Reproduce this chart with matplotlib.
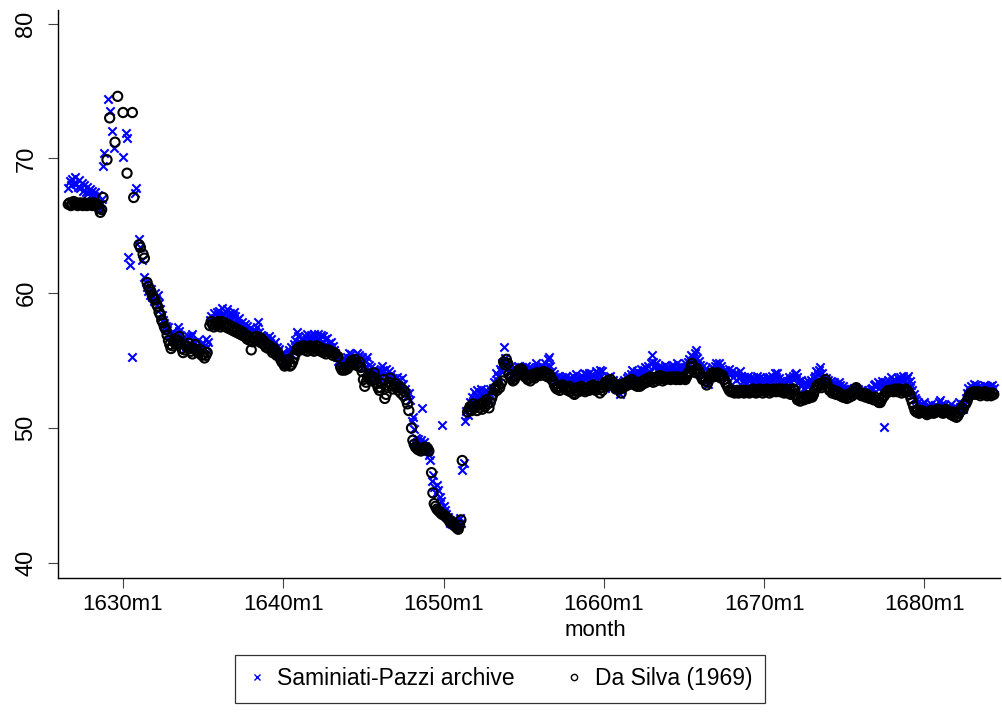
import numpy as np
import matplotlib.pyplot as plt
from matplotlib.lines import Line2D

plt.rcParams['font.family'] = ['Liberation Sans', 'DejaVu Sans']

# monthly series, first observation is 1626m8
first_year = 1626
first_month = 8

# Saminiati-Pazzi archive (None = no observation)
sp_archive = [
    67.8, 68.3, 68.0, 68.5, 68.2,                                        # 1626 m8-m12
    68.6, 68.1, 67.9, 68.4, 67.8, 68.2, 67.6, 68.0, 67.5, 67.9, 67.4, 67.7,  # 1627
    67.3, 67.6, 67.2, 67.5, 67.0, 67.3, 66.4, 66.2, 67.0, 69.4, 70.4, None,  # 1628
    None, 74.4, 73.5, None, 72.0, 70.8, None, None, None, None, None, None,  # 1629
    70.1, None, 71.9, 71.5, 62.7, 62.1, None, 55.3, None, 67.4, 67.8, None,  # 1630
    64.0, 63.4, 62.5, None, 61.2, 60.8, 60.5, 60.2, 59.9, 60.3, 59.7, 59.4,  # 1631
    60.0, 59.6, 59.9, 59.3, 58.8, 58.4, 58.0, 57.8, 57.6, 57.3, 57.5, 57.0,  # 1632
    56.8, 57.1, 56.5, 56.2, 56.8, 57.5, 57.2, 56.9, 56.4, 56.7, 56.3, 56.0,  # 1633
    56.5, 56.8, 56.2, 56.8, 57.0, 56.4, 55.9, 56.1, 56.5, 56.0, 55.8, 56.2,  # 1634
    56.3, 55.9, 56.6, 56.0, 56.4, 58.0, 58.3, 57.8, 58.5, 58.2, 58.6, 58.4,  # 1635
    58.7, 58.4, 58.9, 58.5, 58.2, 58.6, 58.8, 58.3, 58.5, 58.1, 58.4, 58.6,  # 1636
    58.3, 58.0, 57.8, 58.2, 57.6, 57.9, 57.5, 57.7, 57.3, 57.6, 57.2, 57.4,  # 1637
    57.0, 57.3, 56.8, 57.2, 57.5, 57.9, 57.1, 56.9, 56.6, 56.8, 56.4, 56.7,  # 1638
    56.5, 56.8, 56.3, 56.6, 56.1, 55.9, 56.4, 56.0, 55.7, 55.9, 55.4, 55.6,  # 1639
    55.5, 55.2, 55.0, 55.4, 55.8, 55.6, 56.0, 55.7, 56.2, 56.5, 57.1, 56.8,  # 1640
    56.0, 56.3, 56.6, 56.2, 56.8, 56.5, 57.0, 56.7, 56.4, 56.9, 56.6, 57.0,  # 1641
    56.8, 56.5, 57.0, 56.7, 56.9, 56.4, 56.8, 56.6, 56.2, 56.7, 56.3, 56.0,  # 1642
    56.4, 56.1, 55.8, 55.6, 55.3, 55.0, 54.8, 54.6, 54.9, 55.2, 54.7, 55.0,  # 1643
    55.3, 55.6, 55.2, 55.5, 54.9, 55.3, 55.0, 55.6, 55.2, 55.4, 55.0, 55.3,  # 1644
    54.8, 54.5, 55.0, 55.3, 54.7, 54.2, 54.5, 54.0, 54.4, 53.8, 54.1, 53.7,  # 1645
    53.9, 54.2, 54.6, 54.3, 54.0, 54.4, 53.9, 54.2, 53.6, 54.0, 53.7, 53.5,  # 1646
    53.4, 53.8, 53.2, 53.6, 53.1, 53.7, 53.3, 52.9, 52.6, 52.4, 52.6, 52.1,  # 1647
    50.5, 50.8, 49.9, 49.3, 49.0, 49.2, 48.9, 49.1, 51.5, 49.0, 48.7, 48.5,  # 1648
    48.3, 48.0, 47.6, 46.1, 46.5, 45.6, 45.2, 45.8, 45.4, 44.9, 44.6, 50.2,  # 1649
    44.2, 43.9, 43.6, 43.4, 43.2, 43.0, 42.9, 43.1, 42.8, 43.2, 43.0, 42.7,  # 1650
    43.3, 43.0, 46.9, 47.4, 50.5, 51.3, 51.0, 51.6, 51.9, 52.3, 52.0, 52.7,  # 1651
    52.4, 52.8, 52.2, 52.6, 52.9, 52.5, 52.7, 52.3, 52.8, 52.4, 52.6, 52.9,  # 1652
    52.7, 53.0, 53.4, 54.1, 53.6, 53.9, 54.4, 54.2, 54.8, 56.0, 55.2, 54.9,  # 1653
    54.6, 54.2, 54.5, 54.0, 54.3, 53.9, 54.4, 54.1, 54.6, 54.2, 54.5, 54.0,  # 1654
    54.3, 54.0, 54.6, 54.2, 54.5, 54.1, 54.4, 54.0, 54.3, 54.8, 54.5, 54.2,  # 1655
    54.4, 54.1, 54.6, 54.3, 54.8, 54.5, 55.1, 55.3, 54.6, 54.2, 53.8, 54.0,  # 1656
    53.7, 53.5, 53.9, 53.6, 53.4, 53.8, 53.5, 53.7, 53.9, 53.6, 53.3, 53.7,  # 1657
    53.5, 53.9, 53.6, 54.0, 53.7, 53.4, 53.8, 53.5, 53.9, 54.1, 53.7, 54.0,  # 1658
    53.8, 54.1, 53.7, 54.0, 53.6, 53.9, 54.2, 53.8, 54.1, 54.3, 53.9, 54.2,  # 1659
    53.6, 53.0, 53.4, 53.8, 53.5, 53.9, 53.2, 53.6, 53.1, 53.4, 52.9, 53.3,  # 1660
    52.5, 52.8, 53.2, 53.6, 53.3, 53.7, 53.9, 53.5, 54.0, 54.3, 53.8, 54.1,  # 1661
    53.9, 54.2, 53.8, 54.1, 54.4, 54.0, 54.3, 54.5, 54.1, 54.6, 54.2, 54.8,  # 1662
    55.4, 54.9, 54.5, 54.8, 54.3, 54.6, 54.2, 54.5, 54.1, 54.4, 54.7, 54.3,  # 1663
    54.5, 54.2, 54.6, 54.3, 54.7, 54.4, 54.1, 54.8, 54.5, 54.2, 54.6, 54.3,  # 1664
    54.5, 54.8, 54.4, 54.9, 55.1, 55.4, 55.0, 55.3, 55.6, 55.8, 55.2, 55.0,  # 1665
    54.7, 54.3, 54.6, 54.0, 54.4, 53.8, 53.3, 53.9, 54.2, 54.5, 54.1, 54.6,  # 1666
    54.8, 54.5, 54.8, 54.3, 54.6, 54.2, 53.9, 54.3, 53.8, 54.1, 54.4, 54.0,  # 1667
    54.2, 53.8, 54.1, 53.6, 54.0, 53.7, 54.2, 53.9, 53.5, 53.8, 53.4, 53.7,  # 1668
    53.9, 53.5, 53.8, 53.4, 53.7, 53.3, 53.6, 53.9, 53.5, 53.8, 53.4, 53.7,  # 1669
    53.6, 53.3, 53.7, 53.4, 53.8, 53.5, 53.9, 53.6, 54.1, 53.8, 54.1, 53.7,  # 1670
    53.5, 53.2, 53.6, 53.0, 53.4, 53.1, 53.5, 53.8, 53.4, 53.7, 53.9, 54.0,  # 1671
    54.1, 53.8, 53.5, 53.2, 53.6, 53.3, 53.0, 53.4, 53.1, 53.5, 53.2, 53.6,  # 1672
    53.4, 53.7, 53.9, 54.2, 54.0, 54.3, 54.5, 54.1, 53.8, 53.5, 53.7, 53.4,  # 1673
    53.6, 53.3, 53.5, 53.2, 53.4, 53.0, 53.3, 53.1, 53.4, 53.2, 52.9, 53.1,  # 1674
    52.9, 52.7, 53.0, 52.8, 52.6, 52.9, 52.7, 52.5, 52.8, 52.6, 52.9, 52.7,  # 1675
    52.6, 52.8, 52.5, 52.7, 52.4, 52.6, 52.8, 52.5, 52.9, 53.0, 53.2, 53.3,  # 1676
    53.1, 53.4, 53.0, 53.3, 53.5, 53.2, 50.1, 53.4, 53.1, 53.6, 53.3, 53.8,  # 1677
    53.5, 53.2, 53.6, 53.3, 53.7, 53.4, 53.8, 53.5, 53.9, 53.6, 53.3, 53.7,  # 1678
    53.9, 53.5, 53.2, 52.8, 52.5, 52.2, 52.1, 51.9, 51.7, 51.5, 51.8, 51.6,  # 1679
    51.9, 51.6, 51.4, 51.7, 51.5, 51.8, 51.3, 51.6, 51.4, 51.7, 51.5, 51.9,  # 1680
    52.1, 51.8, 51.5, 51.7, 51.4, 51.6, 51.3, 51.5, 51.8, 51.4, 51.6, 51.3,  # 1681
    51.5, 51.2, 51.9, 51.6, 51.8, 51.4, 51.7, 52.2, 52.6, 53.0, 52.7, 53.1,  # 1682
    52.8, 53.3, 52.9, 53.2, 52.8, 53.1, 52.7, 53.0, 52.8, 53.2, 52.9, 53.1,  # 1683
    52.8, 53.1, 52.9, 53.2, 53.0,                                        # 1684 m1-m5
]

# Da Silva (1969)
da_silva = [
    66.6, 66.7, 66.5, 66.6, 66.8,                                        # 1626 m8-m12
    66.6, 66.7, 66.5, 66.6, 66.7, 66.6, 66.5, 66.7, 66.6, 66.5, 66.6, 66.7,  # 1627
    66.6, 66.5, 66.7, 66.6, 66.5, 66.6, 66.3, 66.0, 66.2, 67.1, None, None,  # 1628
    69.9, None, 73.0, None, None, None, 71.2, None, 74.6, None, None, None,  # 1629
    73.4, None, None, 68.9, None, None, None, 73.4, 67.1, None, None, None,  # 1630
    63.6, 63.4, None, 62.9, 62.6, None, 60.8, 60.5, 60.3, 60.1, 59.8, 59.6,  # 1631
    59.5, 59.2, 59.0, 58.6, 58.4, 58.0, 57.8, 57.5, 57.3, 56.9, 56.5, 56.2,  # 1632
    55.9, 56.1, 56.4, 56.6, 56.2, 56.5, 56.8, 56.3, 55.9, 55.6, 55.8, 56.1,  # 1633
    56.0, 56.3, 55.9, 55.7, 55.5, 55.9, 56.2, 55.8, 55.6, 55.6, 55.8, 55.4,  # 1634
    55.5, 55.2, 55.4, 55.6, None, 57.6, 57.9, 57.7, 57.5, 57.8, 57.6, 57.9,  # 1635
    57.7, 57.5, 57.9, 57.6, 57.8, 57.5, 57.7, 57.4, 57.6, 57.3, 57.5, 57.2,  # 1636
    57.4, 57.1, 57.3, 57.0, 57.2, 56.9, 57.1, 56.8, 56.9, 56.6, 56.8, 56.5,  # 1637
    55.8, 56.4, 56.7, 56.5, 56.8, 56.6, 56.4, 56.7, 56.3, 56.5, 56.2, 56.0,  # 1638
    56.2, 55.9, 56.1, 55.8, 55.6, 55.9, 55.7, 55.4, 55.6, 55.3, 55.1, 54.9,  # 1639
    54.8, 54.6, 54.7, 54.9, 55.1, 54.6, 54.7, 54.9, 55.2, 55.5, 55.8, 55.9,  # 1640
    56.0, 55.8, 55.9, 56.1, 55.8, 56.0, 55.7, 55.9, 56.1, 55.8, 56.0, 55.7,  # 1641
    55.9, 56.1, 55.8, 56.0, 55.7, 55.9, 55.6, 55.8, 55.5, 55.7, 55.8, 55.6,  # 1642
    55.6, 55.4, 55.6, 55.5, 55.3, 55.3, None, 54.5, 54.3, 54.4, 54.3, 54.5,  # 1643
    54.4, 54.6, 54.8, 55.0, 54.7, 54.9, 55.1, 54.8, 54.6, 54.9, 54.5, 54.2,  # 1644
    53.6, 53.1, 53.4, 53.8, 54.0, 53.7, 53.5, 53.8, 54.1, 53.6, 53.3, 53.0,  # 1645
    52.8, 53.0, 53.3, 53.6, 52.2, 52.5, 53.0, 53.4, 53.7, 53.2, 52.9, 53.1,  # 1646
    53.3, 53.0, 52.8, 53.1, 52.6, 52.9, 52.4, 52.7, 52.1, 51.8, 51.3, None,  # 1647
    50.0, 49.1, 48.8, 48.6, 48.5, 48.4, 48.5, 48.3, 48.5, 48.4, 48.6, 48.4,  # 1648
    48.5, 48.3, None, 46.7, 45.2, 44.4, 44.2, 44.0, 43.9, 43.8, 43.7, 43.6,  # 1649
    43.6, 43.5, 43.4, 43.3, 43.2, 43.0, 43.1, 42.9, 42.8, 42.7, 42.6, 42.5,  # 1650
    42.8, 43.2, 47.6, None, None, None, 51.2, 51.4, 51.6, 51.3, 51.8, 51.5,  # 1651
    51.6, 51.3, 51.7, 51.5, 51.8, 51.4, 51.9, 51.6, 52.1, 51.8, 51.5, 51.9,  # 1652
    52.2, 52.5, 52.9, 53.0, 52.8, 53.2, 53.0, 53.3, 53.5, 54.9, 54.7, 55.1,  # 1653
    54.8, 54.0, 53.8, 53.7, 53.5, 53.6, 53.8, 54.1, 54.3, 54.2, 54.4, 54.3,  # 1654
    54.1, 53.8, 53.9, 53.6, 53.7, 53.5, 53.8, 54.0, 53.7, 53.9, 54.1, 54.0,  # 1655
    53.9, 54.0, 54.1, 54.2, 53.9, 54.1, 53.8, 54.0, 53.8, 53.6, 53.5, 53.2,  # 1656
    53.0, 52.9, 53.1, 52.8, 53.0, 53.2, 53.1, 52.9, 53.0, 52.8, 53.1, 52.7,  # 1657
    52.9, 52.6, 52.5, 52.8, 53.0, 52.7, 52.9, 53.1, 52.8, 53.0, 52.7, 52.9,  # 1658
    53.0, 52.8, 53.1, 52.9, 53.2, 53.0, 52.8, 53.1, 52.9, 52.6, 53.0, 52.8,  # 1659
    53.2, 53.4, 53.1, 53.5, 53.3, 53.6, 53.2, 53.4, 53.1, 52.9, 53.2, 53.0,  # 1660
    52.9, 52.6, 53.0, 53.3, 53.1, 53.4, 53.2, 53.5, 53.3, 53.6, 53.4, 53.2,  # 1661
    53.3, 53.1, 53.4, 53.1, 53.2, 53.5, 53.3, 53.6, 53.4, 53.7, 53.5, 53.8,  # 1662
    53.6, 53.4, 53.7, 53.5, 53.8, 53.6, 53.9, 53.7, 53.5, 53.8, 53.6, 53.7,  # 1663
    53.7, 53.8, 53.6, 53.7, 53.8, 53.7, 53.6, 53.8, 53.7, 53.6, 53.7, 53.8,  # 1664
    53.7, 53.6, 53.8, 54.0, 54.2, 54.5, 54.8, 54.6, 54.3, 54.1, 54.4, 54.2,  # 1665
    54.0, 53.8, 53.6, 53.8, 53.5, 53.2, 53.4, 53.7, 53.9, 54.1, 53.8, 54.0,  # 1666
    53.9, 54.1, 53.8, 54.0, 53.7, 53.9, 53.6, 53.4, 53.2, 53.0, 52.8, 52.7,  # 1667
    52.7, 52.8, 52.6, 52.7, 52.8, 52.6, 52.7, 52.8, 52.7, 52.6, 52.8, 52.7,  # 1668
    52.7, 52.6, 52.8, 52.7, 52.9, 52.7, 52.6, 52.8, 52.7, 52.9, 52.8, 52.6,  # 1669
    52.8, 52.7, 52.9, 52.8, 52.6, 52.8, 52.7, 52.9, 52.8, 52.7, 52.9, 52.8,  # 1670
    52.7, 52.9, 52.8, 52.6, 52.7, 52.9, 52.6, 52.8, 52.5, 52.7, 52.9, 52.8,  # 1671
    52.4, 52.1, 52.2, 52.0, 52.2, 52.3, 52.1, 52.3, 52.4, 52.2, 52.4, 52.3,  # 1672
    52.3, 52.5, 52.8, 53.0, 53.2, 53.1, 53.3, 53.0, 53.2, 53.4, 53.6, 53.3,  # 1673
    53.0, 52.8, 52.9, 52.6, 52.8, 52.7, 52.5, 52.7, 52.6, 52.4, 52.5, 52.3,  # 1674
    52.3, 52.4, 52.2, 52.5, 52.3, 52.6, 52.4, 52.7, 52.9, 53.0, 52.8, 52.6,  # 1675
    52.5, 52.4, 52.6, 52.5, 52.3, 52.5, 52.4, 52.2, 52.3, 52.2, 52.1, 52.3,  # 1676
    52.1, 52.0, 51.9, 51.9, 52.1, 52.3, 52.4, 52.6, 52.7, 52.8, 52.7, 52.8,  # 1677
    52.8, 52.7, 52.9, 52.8, 52.7, 52.9, 52.8, 52.6, 52.8, 52.7, 52.9, 52.8,  # 1678
    52.7, 52.5, 52.2, 51.9, 51.6, 51.3, 51.2, 51.3, 51.1, 51.2, 51.3, 51.2,  # 1679
    51.2, 51.1, 51.0, 51.2, 51.1, 51.3, 51.2, 51.1, 51.3, 51.2, 51.4, 51.3,  # 1680
    51.2, 51.3, 51.1, 51.2, 51.4, 51.3, 51.2, 51.1, 51.0, 51.2, 50.9, 51.1,  # 1681
    50.8, 50.9, 51.1, 51.3, 51.5, 51.4, 51.7, 51.8, 52.0, 52.3, 52.5, 52.6,  # 1682
    52.5, 52.7, 52.6, 52.5, 52.7, 52.6, 52.4, 52.6, 52.5, 52.7, 52.6, 52.4,  # 1683
    52.5, 52.6, 52.4, 52.6, 52.5,                                        # 1684 m1-m5
]

tick_years = [1630, 1640, 1650, 1660, 1670, 1680]
tick_labels = ['1630m1', '1640m1', '1650m1', '1660m1', '1670m1', '1680m1']
y_ticks = [40, 50, 60, 70, 80]

# time axis in fractional years
n = len(sp_archive)
t = first_year + (first_month - 1 + np.arange(n)) / 12.0
sp = np.array(sp_archive, dtype=float)
ds = np.array(da_silva, dtype=float)

fig = plt.figure(figsize=(10.02, 7.16), dpi=100)
ax = fig.add_axes([0.058, 0.193, 0.94, 0.793])

ax.scatter(t, sp, marker='x', s=36, color='#0000ff', linewidths=1.5, zorder=2)
ax.scatter(t, ds, marker='o', s=44, facecolors='none', edgecolors='black',
           linewidths=1.5, zorder=3)

ax.set_xlim(1625.95, 1684.72)
ax.set_ylim(38.9, 81.0)

ax.spines['top'].set_visible(False)
ax.spines['right'].set_visible(False)
for side in ['left', 'bottom']:
    ax.spines[side].set_linewidth(1.0)

ax.set_xticks(tick_years)
ax.set_xticklabels(tick_labels)
ax.set_yticks(y_ticks)
ax.set_yticklabels([str(v) for v in y_ticks], rotation=90, va='center')
ax.tick_params(axis='both', direction='out', length=7, width=0.8,
               labelsize=16, color='#444444')
ax.tick_params(axis='y', labelsize=17, pad=8)
ax.tick_params(axis='x', pad=5)
ax.set_xlabel('month', fontsize=16, labelpad=0)
ax.xaxis.set_label_coords(0.57, -0.075)

handles = [
    Line2D([], [], ls='', marker='x', color='#0000ff', markersize=4, mew=1.0),
    Line2D([], [], ls='', marker='o', markerfacecolor='none',
           markeredgecolor='black', markersize=4.5, mew=1.0),
]
leg = fig.legend(handles, ['Saminiati-Pazzi archive', 'Da Silva (1969)'],
                 loc='center', bbox_to_anchor=(0.499, 0.052), ncol=2,
                 fontsize=16.5, frameon=True, fancybox=False, edgecolor='black',
                 handlelength=0.8, handletextpad=0.5, columnspacing=2.2,
                 borderpad=0.55)
leg.get_frame().set_linewidth(0.9)

fig.savefig('out.png', dpi=100, facecolor='white')
